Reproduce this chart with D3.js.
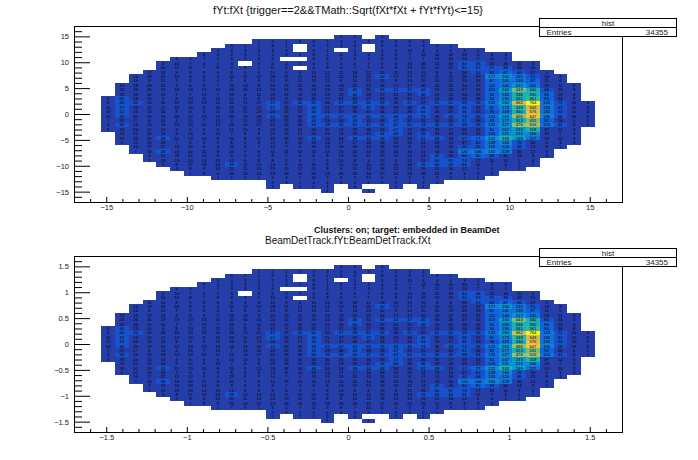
<!DOCTYPE html>
<html>
<head>
<meta charset="utf-8">
<style>
  html, body { margin: 0; background: #fff; }
  svg { display: block; font-family: "Liberation Sans", Arial, sans-serif; }
  .tick text { font-size: 7.5px; fill: #222; }
</style>
<script src="https://cdn.jsdelivr.net/npm/d3@7"></script>
</head>
<body>
<svg id="chart" width="698" height="460"></svg>
<script>
// bin contents, row number = y bin, 0 = empty bin
const row37 = [1,1,0,3];
const row36 = [1,1,1,3,3,3,3,4,3,9,3,3,3];
const row35 = [3,2,1,8,1,0,3,1,3,4,0,8,4,3,3,3,1];
const row34 = [3,4,3,3,3,3,0,8,1,0,1,0,3,3,10,4,4,4,3,1];
const row33 = [8,3,3,3,1,1,3,2,8,1,6,3,4,4,8,7,16,14,16,33,6,8,3];
const row32 = [6,4,7,1,3,3,3,4,0,0,8,4,1,2,3,3,6,7,7,11,13,10,7,11,3];
const row31 = [4,10,7,4,2,3,0,3,6,4,2,4,6,3,6,7,6,4,15,15,12,33,44,46,23,16,10,3];
const row30 = [10,12,11,7,8,3,3,1,11,3,0,4,8,4,7,7,6,8,15,10,12,22,60,57,71,39,32,10];
const row29 = [12,14,8,5,8,6,8,3,8,10,6,6,10,12,11,18,12,13,11,13,10,8,6,36,50,64,87,40,17,3];
const row28 = [14,19,26,16,8,6,5,10,11,12,28,21,11,19,17,22,16,21,40,17,27,27,21,21,26,37,177,200,132,71,16,8];
const row27 = [14,8,11,7,6,6,4,6,8,6,13,8,11,13,11,6,14,13,11,9,14,20,20,13,33,33,87,141,133,87,11,6];
const row26 = [13,19,19,13,9,6,8,7,16,13,9,20,13,11,20,16,19,22,22,34,17,17,20,24,22,34,37,111,140,217,131,33,11,8];
const row25 = [26,26,26,23,13,13,13,14,20,16,14,20,31,19,19,24,26,46,31,63,41,47,40,33,26,37,34,113,240,443,340,66,33,9];
const row24 = [22,26,16,15,7,7,13,7,19,6,11,26,24,16,24,24,26,44,24,37,31,31,46,24,24,34,36,94,165,336,330,86,24,4];
const row23 = [8,60,19,16,4,8,10,11,11,11,11,8,31,9,24,31,27,31,30,27,36,26,37,27,24,24,36,36,94,190,341,361,84,34,8];
const row22 = [6,46,40,14,26,10,19,23,14,26,21,21,47,37,40,61,36,57,49,51,63,36,41,37,61,41,59,66,132,260,562,764,143,71,16,3];
const row21 = [10,47,16,12,11,12,16,9,14,16,11,20,41,26,21,40,21,37,33,42,34,33,36,46,31,33,46,37,81,173,349,543,133,41,10,3];
const row20 = [13,42,26,13,16,8,6,8,11,19,11,23,26,26,17,44,21,37,36,37,34,27,36,64,26,37,46,33,76,119,340,576,130,53,14,3];
const row19 = [10,46,30,13,16,16,23,13,19,26,23,26,44,30,26,44,41,57,41,60,73,46,46,73,36,44,74,66,120,263,466,647,166,66,16,3];
const row18 = [7,37,17,8,14,4,16,7,13,7,14,26,33,19,26,44,29,36,43,33,36,47,37,31,34,30,51,36,89,177,313,431,92,26,6,1];
const row17 = [3,56,19,13,19,13,13,10,17,23,14,27,31,26,36,54,39,46,53,47,66,47,60,74,46,46,59,69,131,227,476,516,116,41,6,1];
const row16 = [3,33,24,11,13,4,6,6,6,11,13,9,20,13,14,30,30,24,33,36,33,47,19,30,33,17,36,34,84,167,233,318,37,12,3];
const row15 = [24,21,20,14,9,14,8,13,7,8,9,23,16,17,26,24,18,26,37,44,40,36,46,33,33,33,37,105,221,213,166,33,7,3];
const row14 = [26,33,26,43,11,13,16,8,16,8,12,33,33,16,46,26,34,39,44,49,34,36,61,39,33,57,77,222,333,249,127,33,10,3];
const row13 = [6,21,16,26,7,6,6,6,8,4,8,13,8,10,13,14,17,17,16,33,26,26,24,13,14,37,60,149,166,76,34,6,3,3];
const row12 = [10,17,27,13,10,6,4,13,6,7,14,7,6,16,16,26,26,13,33,13,8,17,13,16,46,66,118,124,46,23,8,1];
const row11 = [7,24,39,13,24,11,8,20,7,8,11,23,13,23,13,20,24,14,26,26,16,21,16,30,120,146,160,129,36,21,3];
const row10 = [3,11,20,24,14,8,9,4,6,8,7,4,6,8,13,10,11,19,11,12,14,41,34,60,80,53,30,14,3,3];
const row09 = [1,13,13,20,14,13,11,6,8,8,6,3,7,3,10,8,4,13,6,11,26,50,57,74,27,16,10,1,4];
const row08 = [3,8,27,19,24,39,12,13,14,6,10,10,6,10,14,16,20,31,34,76,60,44,66,11,7,3,1,1];
const row07 = [4,8,8,14,20,11,10,23,13,12,21,8,8,10,10,18,12,16,26,11,16,12,6,4,1,1];
const row06 = [1,8,6,16,14,13,13,19,16,26,19,26,26,16,27,16,23,26,11,9,3,3,3];
const row05 = [1,7,3,1,5,4,7,11,7,8,7,11,6,1,3,3,3,3,1,1];
const row04 = [2,3,1,4,4,3,3,2,1,3,1,3,1];
const row03 = [1,0,1,2,3,0,4,0,0,2,0,1];
const row02 = [1,0,0,1];

// first filled x bin of each row, same order as rowList
const rowList = [row02,row03,row04,row05,row06,row07,row08,row09,row10,row11,row12,row13,row14,row15,row16,row17,row18,row19,row20,row21,row22,row23,row24,row25,row26,row27,row28,row29,row30,row31,row32,row33,row34,row35,row36,row37];
const firstBin = [18,14,14,10,8,7,6,5,5,4,4,3,3,3,2,2,2,2,2,2,2,2,3,3,3,4,4,5,6,6,7,9,10,11,13,19];
const firstRow = 2;

const binWidth = 0.85;
const axisLimit = 17;
const maxCount = 764;
const nLevels = 20;

const majorTicks = [-15,-10,-5,0,5,10,15];
const minorTicks = [-16,-14,-13,-12,-11,-9,-8,-7,-6,-4,-3,-2,-1,1,2,3,4,6,7,8,9,11,12,13,14,16];

const title1 = "fYt:fXt {trigger==2&&TMath::Sqrt(fXt*fXt + fYt*fYt)<=15}";
const title2 = "BeamDetTrack.fYt:BeamDetTrack.fXt";
const subTitle = "Clusters: on; target: embedded in BeamDet";
const statsName = "hist";
const statsEntries = "34355";

// ROOT kBird palette stops
const birdStops = ["#352a87","#0f5cdd","#1481d6","#06a4ca","#2eb7a4","#87bf77","#d1bb59","#fec832","#f9fb0e"];
const bird = d3.scaleLinear()
  .domain(birdStops.map((c, i) => i / (birdStops.length - 1)))
  .range(birdStops)
  .interpolate(d3.interpolateRgb);

// same bin -> colour rule as THistPainter
function cellColor(v) {
  const level = Math.min(nLevels - 1, Math.floor(v / (maxCount / nLevels)));
  return bird((level + 0.99) / nLevels);
}

const svg = d3.select("#chart");

function drawPanel(top, unit, title) {
  const g = svg.append("g");
  const height = 176;
  const x = d3.scaleLinear().domain([-axisLimit * unit, axisLimit * unit]).range([74, 622]);
  const y = d3.scaleLinear().domain([-axisLimit * unit, axisLimit * unit]).range([top + height, top]);

  // cells
  const cells = [];
  rowList.forEach((row, r) => {
    row.forEach((v, k) => {
      if (v > 0) cells.push({ ix: firstBin[r] + k, iy: firstRow + r, v });
    });
  });
  const w = binWidth * unit;
  const low = i => (-axisLimit + i * binWidth) * unit;

  g.selectAll("rect.cell")
    .data(cells)
    .join("rect")
    .attr("class", "cell")
    .attr("x", d => x(low(d.ix)))
    .attr("y", d => y(low(d.iy) + w))
    .attr("width", x(w) - x(0))
    .attr("height", y(0) - y(w))
    .attr("fill", d => cellColor(d.v))
    .attr("shape-rendering", "crispEdges");

  g.selectAll("text.cnt")
    .data(cells)
    .join("text")
    .attr("class", "cnt")
    .attr("x", d => x(low(d.ix) + w / 2))
    .attr("y", d => y(low(d.iy) + w / 2) + 1.4)
    .attr("text-anchor", "middle")
    .attr("font-size", 4.2)
    .attr("fill", "#000")
    .text(d => d.v);

  // frame
  g.append("rect")
    .attr("x", 74.5).attr("y", top + 0.5)
    .attr("width", 548).attr("height", height)
    .attr("fill", "none").attr("stroke", "#000");

  // axes
  const fmt = d3.format("~g");
  const xTicks = majorTicks.map(t => t * unit);
  const yTicks = majorTicks.map(t => t * unit);

  const xAxis = g.append("g").attr("transform", `translate(0,${top + height})`);
  xAxis.call(d3.axisBottom(x).tickValues(xTicks).tickSizeInner(-5).tickSizeOuter(0).tickPadding(3).tickFormat(fmt));
  g.append("g").attr("transform", `translate(0,${top + height})`)
    .call(d3.axisBottom(x).tickValues(minorTicks.map(t => t * unit)).tickSizeInner(-3).tickSizeOuter(0).tickFormat(""));

  const yAxis = g.append("g").attr("transform", "translate(74,0)");
  yAxis.call(d3.axisLeft(y).tickValues(yTicks).tickSizeInner(-16).tickSizeOuter(0).tickPadding(5).tickFormat(fmt));
  g.append("g").attr("transform", "translate(74,0)")
    .call(d3.axisLeft(y).tickValues(minorTicks.map(t => t * unit)).tickSizeInner(-8).tickSizeOuter(0).tickFormat(""));

  // stats box
  const stats = g.append("g");
  stats.append("rect").attr("x", 539.5).attr("y", top - 7.5).attr("width", 137).attr("height", 18)
    .attr("fill", "#fff").attr("stroke", "#000");
  stats.append("line").attr("x1", 539.5).attr("x2", 676.5).attr("y1", top + 1.5).attr("y2", top + 1.5).attr("stroke", "#000");
  stats.append("text").attr("x", 608).attr("y", top).attr("text-anchor", "middle").attr("font-size", 8).attr("fill", "#222").text(statsName);
  stats.append("text").attr("x", 546.5).attr("y", top + 9).attr("font-size", 8).attr("fill", "#222").text("Entries");
  stats.append("text").attr("x", 668).attr("y", top + 9).attr("text-anchor", "end").attr("font-size", 8).attr("fill", "#222").text(statsEntries);

  // title
  return g.append("text").attr("fill", "#111").text(title);
}

drawPanel(26, 1, title1).attr("x", 348).attr("y", 14).attr("text-anchor", "middle").attr("font-size", 11);
drawPanel(256, 0.1, title2).attr("x", 265).attr("y", 244).attr("font-size", 10);

svg.append("text").attr("x", 314).attr("y", 233).attr("font-size", 9).attr("font-weight", "bold")
  .attr("fill", "#111").text(subTitle);
</script>
</body>
</html>
